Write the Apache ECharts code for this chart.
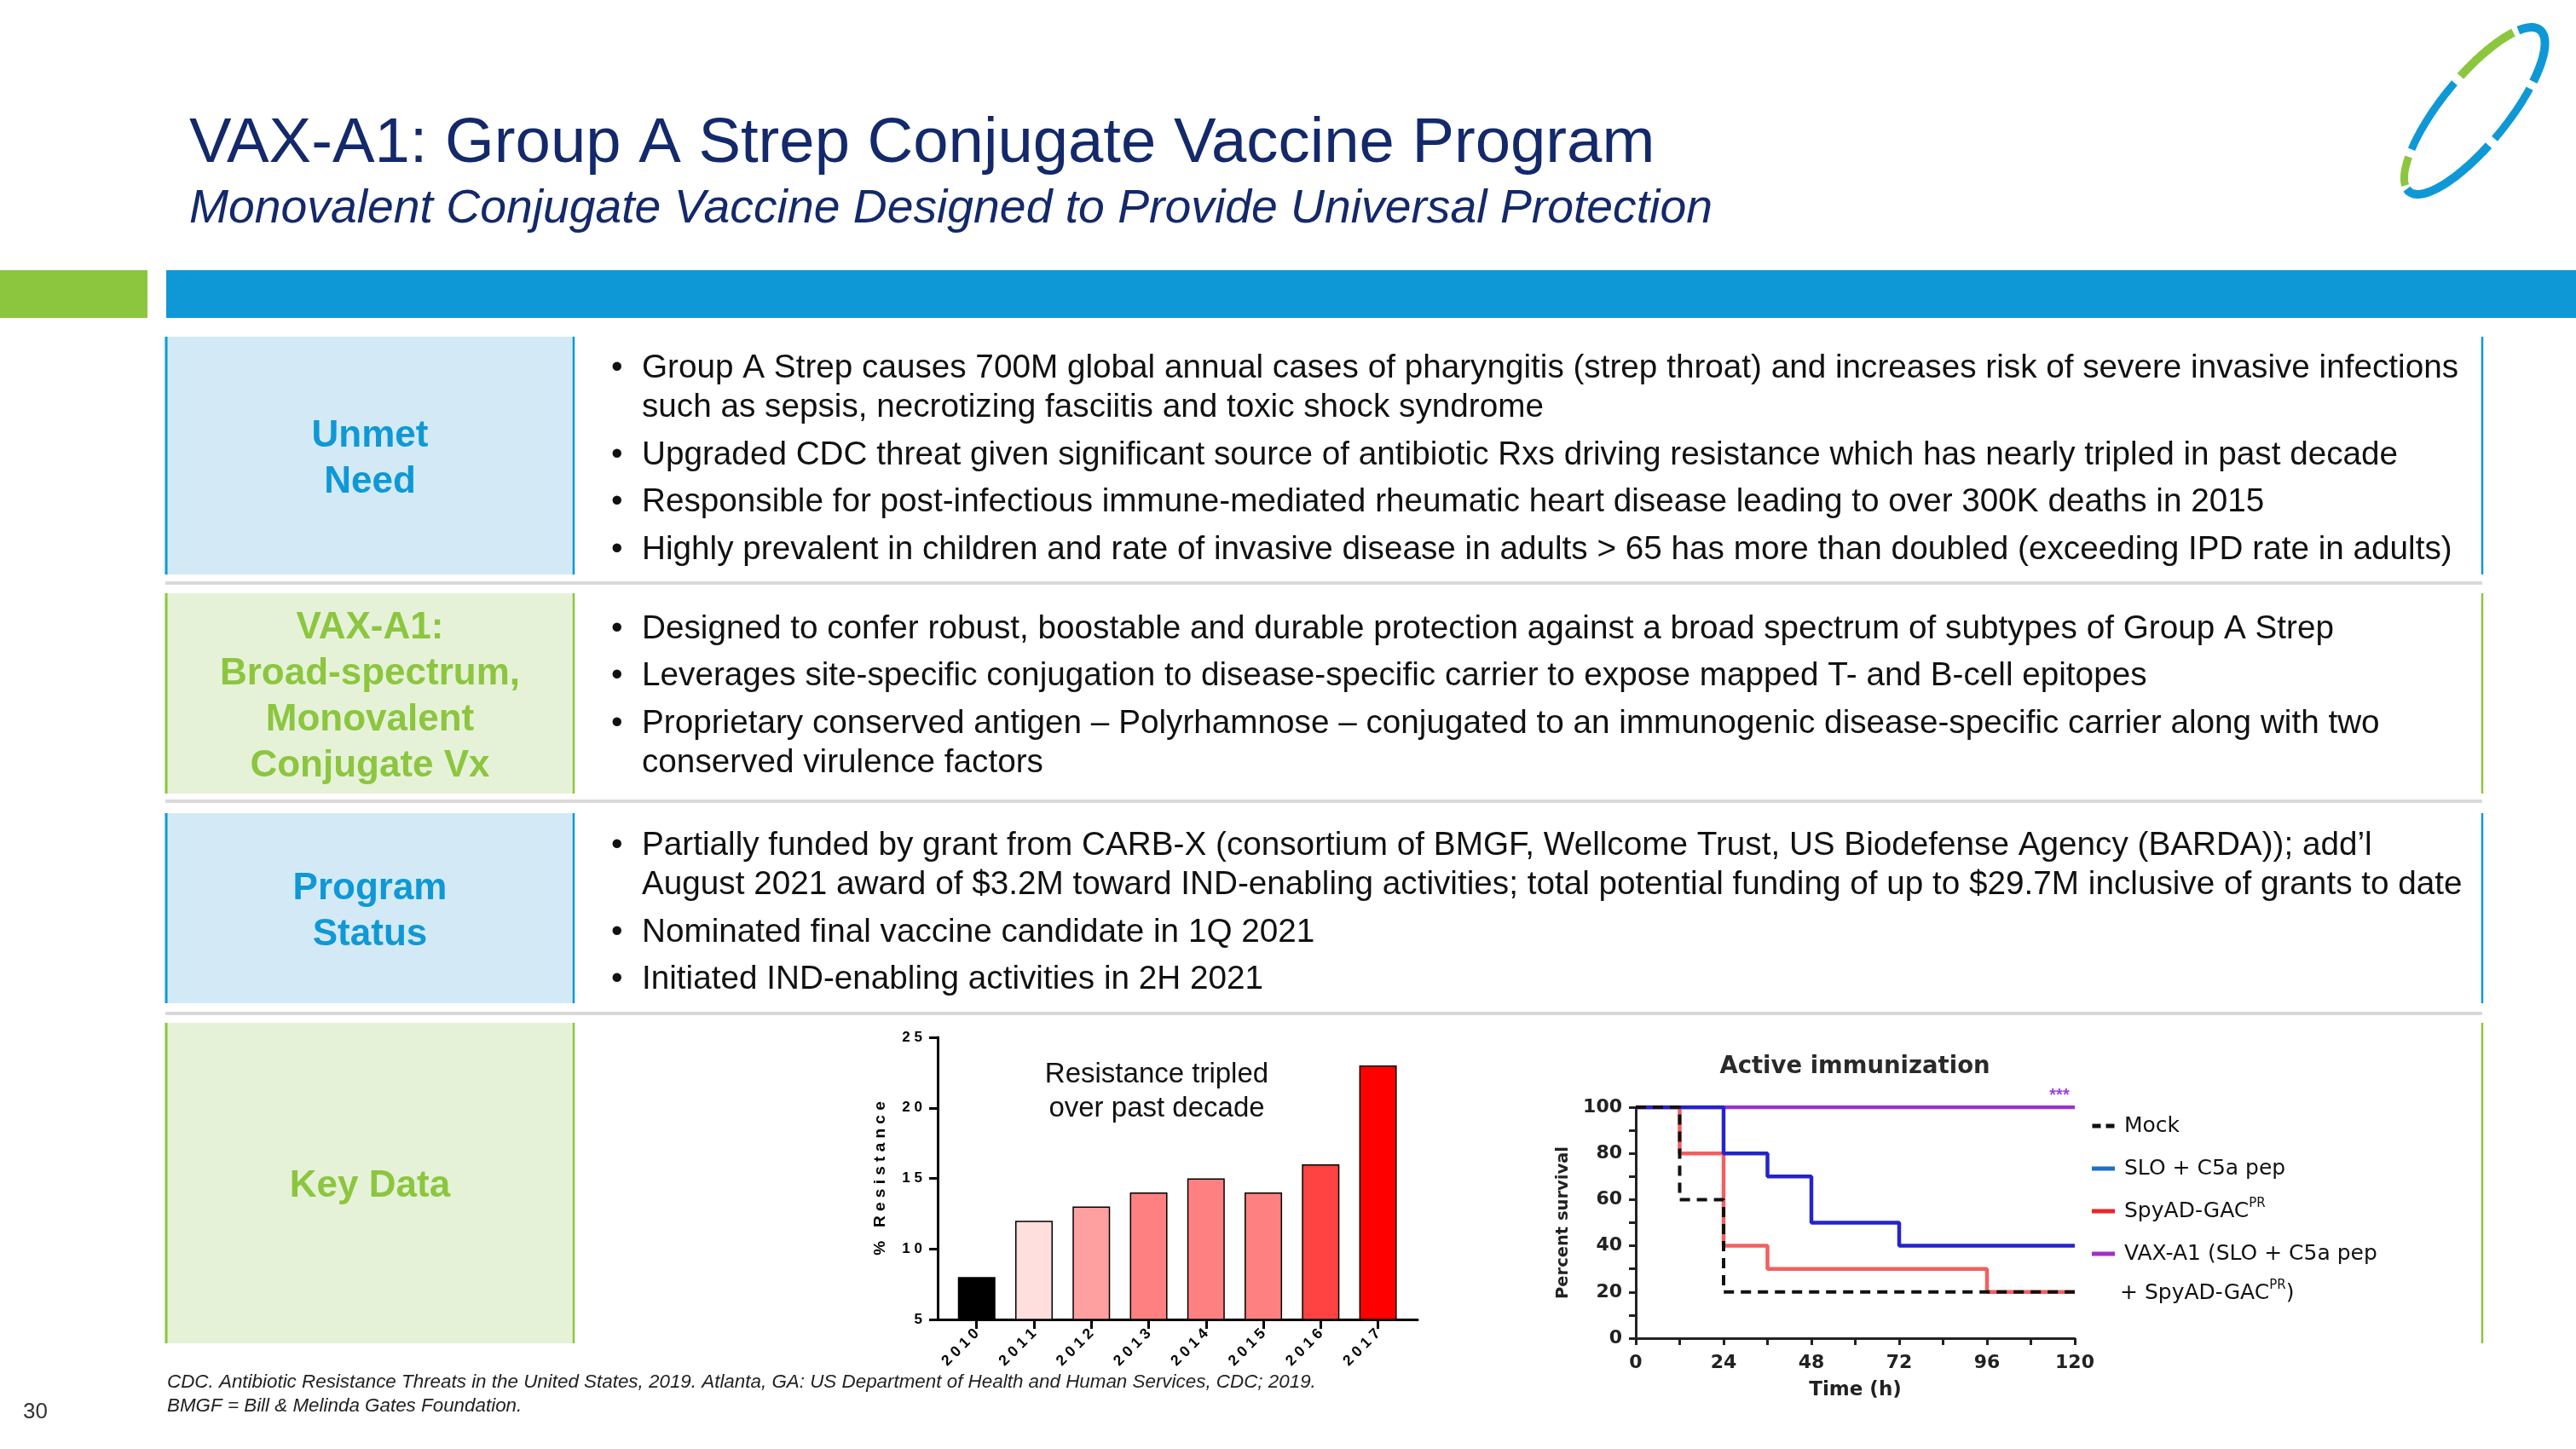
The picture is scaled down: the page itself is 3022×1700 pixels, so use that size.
<!DOCTYPE html>
<html><head><meta charset="utf-8">
<script src="https://cdn.jsdelivr.net/npm/echarts@6/dist/echarts.min.js"></script>
<style>html,body{margin:0;padding:0;background:#fff}#c{width:3022px;height:1700px}</style>
</head><body><div id="c"></div>
<script>
// ---------- DATA ----------
const slideTitle = 'VAX-A1: Group A Strep Conjugate Vaccine Program';
const slideSubtitle = 'Monovalent Conjugate Vaccine Designed to Provide Universal Protection';
const rowLabels = [
  ['Unmet', 'Need'],
  ['VAX-A1:', 'Broad-spectrum,', 'Monovalent', 'Conjugate Vx'],
  ['Program', 'Status'],
  ['Key Data']
];
const rowBullets = [
  [
    ['Group A Strep causes 700M global annual cases of pharyngitis (strep throat) and increases risk of severe invasive infections', 'such as sepsis, necrotizing fasciitis and toxic shock syndrome'],
    ['Upgraded CDC threat given significant source of antibiotic Rxs driving resistance which has nearly tripled in past decade'],
    ['Responsible for post-infectious immune-mediated rheumatic heart disease leading to over 300K deaths in 2015'],
    ['Highly prevalent in children and rate of invasive disease in adults > 65 has more than doubled (exceeding IPD rate in adults)']
  ],
  [
    ['Designed to confer robust, boostable and durable protection against a broad spectrum of subtypes of Group A Strep'],
    ['Leverages site-specific conjugation to disease-specific carrier to expose mapped T- and B-cell epitopes'],
    ['Proprietary conserved antigen \u2013 Polyrhamnose \u2013 conjugated to an immunogenic disease-specific carrier along with two', 'conserved virulence factors']
  ],
  [
    ['Partially funded by grant from CARB-X (consortium of BMGF, Wellcome Trust, US Biodefense Agency (BARDA)); add\u2019l', 'August 2021 award of $3.2M toward IND-enabling activities; total potential funding of up to $29.7M inclusive of grants to date'],
    ['Nominated final vaccine candidate in 1Q 2021'],
    ['Initiated IND-enabling activities in 2H 2021']
  ],
  []
];
const footnotes = [
  'CDC. Antibiotic Resistance Threats in the United States, 2019. Atlanta, GA: US Department of Health and Human Services, CDC; 2019.',
  'BMGF = Bill & Melinda Gates Foundation.'
];
const pageNumber = '30';

// bar chart
const years = [2010, 2011, 2012, 2013, 2014, 2015, 2016, 2017];
const resistance = [8, 12, 13, 14, 15, 14, 16, 23];
const barColors = ['#000000', '#ffdede', '#ffa0a0', '#ff8080', '#ff8080', '#ff8080', '#ff4242', '#ff0000'];
const barNote = ['Resistance tripled', 'over past decade'];
const barAxisName = '% Resistance';

// survival chart
const survivalTitle = 'Active immunization';
const mockTime = [0, 12, 24, 120];
const mockSurv = [100, 60, 20, 20];
const sloTime = [0, 24, 36, 48, 72, 120];
const sloSurv = [100, 80, 70, 50, 40, 40];
const spyTime = [0, 12, 24, 36, 96, 120];
const spySurv = [100, 80, 40, 30, 20, 20];
const vaxTime = [0, 120];
const vaxSurv = [100, 100];
const timeLabels = [0, 24, 48, 72, 96, 120];
const survLabels = [0, 20, 40, 60, 80, 100];
const seriesNames = ['Mock', 'SLO + C5a pep', 'SpyAD-GAC^PR', 'VAX-A1 (SLO + C5a pep'];
const legendSecondLine = '+ SpyAD-GAC^PR)';

// ---------- STYLE / LAYOUT ----------
const FONT = '"Liberation Sans", Arial, sans-serif';
const FONT2 = '"DejaVu Sans", "Liberation Sans", sans-serif';
const NAVY = '#13296b', BLUE = '#0f98d6', GREEN = '#8cc63f';
const BLUE_FILL = '#d3eaf6', GREEN_FILL = '#e6f2d8';
const legendColors = ['#111111', '#1f6fc4', '#e8262a', '#a030c8'];
const rows = [
  {top: 395, bottom: 674, blue: true, sep: 684, bulletY: 432},
  {top: 696, bottom: 931, blue: false, sep: 940, bulletY: 738},
  {top: 954, bottom: 1177, blue: true, sep: 1189, bulletY: 992},
  {top: 1200, bottom: 1576, blue: false, sep: null, bulletY: 0}
];
const spaced = s => String(s).split('').join(' ');
const supFmt = s => s.replace('^PR', '{sup|PR}');

const g = [];
// header bars
g.push({type: 'rect', shape: {x: 0, y: 317, width: 173, height: 56}, style: {fill: GREEN}, silent: true});
g.push({type: 'rect', shape: {x: 195, y: 317, width: 2827, height: 56}, style: {fill: BLUE}, silent: true});

function txt(x, y, text, o) {
  return {type: 'text', x: x, y: y, silent: true, z: 10, style: Object.assign({
    text: text, fill: '#111', fontFamily: FONT, fontSize: 38.7,
    align: 'left', textAlign: 'left', verticalAlign: 'middle', textVerticalAlign: 'middle'
  }, o || {})};
}

g.push(txt(222, 170, slideTitle, {fill: NAVY, fontSize: 74.3}));
g.push(txt(222, 246, slideSubtitle, {fill: NAVY, fontSize: 55.3, fontStyle: 'italic'}));

rows.forEach((r, i) => {
  const col = r.blue ? BLUE : GREEN, fill = r.blue ? BLUE_FILL : GREEN_FILL;
  g.push({type: 'rect', shape: {x: 194, y: r.top, width: 480, height: r.bottom - r.top}, style: {fill: fill}, silent: true});
  g.push({type: 'line', shape: {x1: 195, y1: r.top, x2: 195, y2: r.bottom}, style: {stroke: col, lineWidth: 3}, silent: true});
  g.push({type: 'line', shape: {x1: 673, y1: r.top, x2: 673, y2: r.bottom}, style: {stroke: col, lineWidth: 2.5}, silent: true});
  g.push({type: 'line', shape: {x1: 2912, y1: r.top, x2: 2912, y2: r.bottom}, style: {stroke: col, lineWidth: 2.5}, silent: true});
  if (r.sep) g.push({type: 'line', shape: {x1: 194, y1: r.sep, x2: 2912, y2: r.sep}, style: {stroke: '#d9d9d9', lineWidth: 4}, silent: true});
  const labs = rowLabels[i];
  const c = (r.top + r.bottom) / 2 + 4;
  labs.forEach((l, j) => {
    g.push(txt(434, c + (j - (labs.length - 1) / 2) * 54, l, {fill: col, fontSize: 44, fontWeight: 'bold', align: 'center', textAlign: 'center'}));
  });
  let y = r.bulletY;
  rowBullets[i].forEach((b, bi) => {
    if (bi > 0) y += 55.5;
    b.forEach((line, li) => {
      if (li > 0) y += 46.5;
      if (li === 0) g.push(txt(717, y, '\u2022'));
      g.push(txt(753, y, line));
    });
  });
});

g.push(txt(196, 1622, footnotes[0], {fontSize: 22.4, fontStyle: 'italic', fill: '#222'}));
g.push(txt(196, 1650, footnotes[1], {fontSize: 22.4, fontStyle: 'italic', fill: '#222'}));
g.push(txt(27, 1657, pageNumber, {fontSize: 26, fill: '#333'}));

// bar note
g.push(txt(1357, 1261, barNote[0], {fontSize: 33, align: 'center', textAlign: 'center'}));
g.push(txt(1357, 1301, barNote[1], {fontSize: 33, align: 'center', textAlign: 'center'}));

// survival title and legend 2nd line
g.push(txt(2176, 1252, survivalTitle, {fontFamily: FONT2, fontSize: 27.5, fontWeight: 'bold', fill: '#2a2a2a', align: 'center', textAlign: 'center'}));
g.push(txt(2487, 1517, supFmt(legendSecondLine), {fontFamily: FONT2, fontSize: 25, fill: '#111',
  rich: {sup: {fontFamily: FONT2, fontSize: 15, fill: '#111', verticalAlign: 'top', lineHeight: 32}}}));

// logo: tilted ellipse segments
(function () {
  const cx = 2903, cy = 130, a = 122, b = 39, ang = 51 * Math.PI / 180;
  const ux = Math.cos(ang), uy = -Math.sin(ang), vx = Math.sin(ang), vy = Math.cos(ang);
  const segs = [[-30, 55, BLUE, 10], [60, 95, BLUE, 9], [100, 186, BLUE, 10], [192, 222, GREEN, 9], [228, 275, BLUE, 9], [280, 325, GREEN, 10]];
  segs.forEach(s => {
    const pts = [];
    for (let k = 0; k <= 40; k++) {
      const t = (s[0] + (s[1] - s[0]) * k / 40) * Math.PI / 180;
      pts.push([cx + a * Math.cos(t) * ux + b * Math.sin(t) * vx, cy + a * Math.cos(t) * uy + b * Math.sin(t) * vy]);
    }
    g.push({type: 'polyline', shape: {points: pts}, style: {stroke: s[2], lineWidth: s[3], fill: null}, silent: true});
  });
})();

const zip = (xs, ys) => xs.map((x, i) => [x, ys[i]]);
const legendIcons = ['path://M0,0H10V5H0Z M16,0H26V5H16Z', 'rect', 'rect', 'rect'];

const option = {
  animation: false,
  backgroundColor: '#ffffff',
  grid: [
    {left: 1100, top: 1217, width: 563, height: 331},
    {left: 1919, top: 1299, width: 515, height: 271}
  ],
  xAxis: [
    {
      gridIndex: 0, type: 'value', min: 2009.32, max: 2017.69,
      axisLine: {show: true, lineStyle: {color: '#000', width: 3}},
      axisTick: {show: true, customValues: years, length: 11, lineStyle: {color: '#000', width: 3}},
      axisLabel: {show: true, customValues: years, rotate: 45, margin: 14, formatter: v => spaced(v),
        fontFamily: FONT, fontSize: 17.5, fontWeight: 'bold', color: '#000'},
      splitLine: {show: false}
    },
    {
      gridIndex: 1, type: 'value', min: 0, max: 120, interval: 12,
      name: 'Time (h)', nameLocation: 'middle', nameGap: 50,
      nameTextStyle: {fontFamily: FONT2, fontSize: 23, fontWeight: 'bold', color: '#222'},
      axisLine: {show: true, lineStyle: {color: '#222', width: 3}},
      axisTick: {show: true, length: 8, lineStyle: {color: '#222', width: 3}},
      axisLabel: {show: true, margin: 18, formatter: v => (timeLabels.indexOf(v) >= 0 ? String(v) : ''),
        fontFamily: FONT2, fontSize: 22, fontWeight: 'bold', color: '#222'},
      splitLine: {show: false}
    }
  ],
  yAxis: [
    {
      gridIndex: 0, type: 'value', min: 5, max: 25, interval: 5,
      name: spaced(barAxisName), nameLocation: 'middle', nameRotate: 90, nameGap: 58,
      nameTextStyle: {fontFamily: FONT, fontSize: 19, fontWeight: 'bold', color: '#000'},
      axisLine: {show: true, lineStyle: {color: '#000', width: 3}},
      axisTick: {show: true, length: 10, lineStyle: {color: '#000', width: 3}},
      axisLabel: {show: true, margin: 18, formatter: v => spaced(v), fontFamily: FONT, fontSize: 17, fontWeight: 'bold', color: '#000'},
      splitLine: {show: false}
    },
    {
      gridIndex: 1, type: 'value', min: 0, max: 100, interval: 10,
      name: 'Percent survival', nameLocation: 'middle', nameRotate: 90, nameGap: 75,
      nameTextStyle: {fontFamily: FONT2, fontSize: 19.5, fontWeight: 'bold', color: '#222'},
      axisLine: {show: true, lineStyle: {color: '#222', width: 3}},
      axisTick: {show: true, length: 8, lineStyle: {color: '#222', width: 3}},
      axisLabel: {show: true, margin: 16, formatter: v => (survLabels.indexOf(v) >= 0 ? String(v) : ''),
        fontFamily: FONT2, fontSize: 22, fontWeight: 'bold', color: '#222'},
      splitLine: {show: false}
    }
  ],
  legend: {
    show: true, orient: 'vertical', left: 2449, top: 1300,
    data: seriesNames.map((n, i) => ({name: n, icon: legendIcons[i], itemStyle: {color: legendColors[i], borderWidth: 0}})),
    itemWidth: 27, itemHeight: 5, itemGap: 18,
    formatter: n => supFmt(n),
    textStyle: {fontFamily: FONT2, fontSize: 25, color: '#111', lineHeight: 32, padding: [0, 0, 0, 6],
      rich: {sup: {fontFamily: FONT2, fontSize: 15, color: '#111', verticalAlign: 'top', lineHeight: 32}}},
    selectedMode: false
  },
  series: [
    {
      type: 'bar', name: 'Resistance', xAxisIndex: 0, yAxisIndex: 0, barWidth: 44,
      itemStyle: {borderColor: '#000', borderWidth: 1.5},
      data: years.map((y, i) => ({value: [y, resistance[i]], itemStyle: {color: barColors[i]}}))
    },
    {
      type: 'line', name: seriesNames[3], xAxisIndex: 1, yAxisIndex: 1, step: 'end', symbol: 'none',
      color: '#9b30d0', lineStyle: {width: 4.5, color: '#9b30d0'}, data: zip(vaxTime, vaxSurv), z: 2,
      markPoint: {symbol: 'circle', symbolSize: 1, itemStyle: {color: 'rgba(0,0,0,0)'},
        label: {show: true, formatter: '***', position: 'top', offset: [-18, 2], color: '#a040d8', fontSize: 20, fontWeight: 'bold'},
        data: [{coord: [120, 100]}]}
    },
    {
      type: 'line', name: seriesNames[2], xAxisIndex: 1, yAxisIndex: 1, step: 'end', symbol: 'none',
      color: '#ee4040', lineStyle: {width: 4.5, color: '#f25f5f'}, data: zip(spyTime, spySurv), z: 3
    },
    {
      type: 'line', name: seriesNames[1], xAxisIndex: 1, yAxisIndex: 1, step: 'end', symbol: 'none',
      color: '#2a2ad0', lineStyle: {width: 4.5, color: '#2424cc'}, data: zip(sloTime, sloSurv), z: 4
    },
    {
      type: 'line', name: seriesNames[0], xAxisIndex: 1, yAxisIndex: 1, step: 'end', symbol: 'none',
      color: '#111', lineStyle: {width: 4, color: '#111', type: [12, 8]}, data: zip(mockTime, mockSurv), z: 5
    }
  ],
  graphic: g
};

const chart = echarts.init(document.getElementById('c'), null, {renderer: 'canvas', width: 3022, height: 1700});
chart.setOption(option);
</script>
</body></html>
